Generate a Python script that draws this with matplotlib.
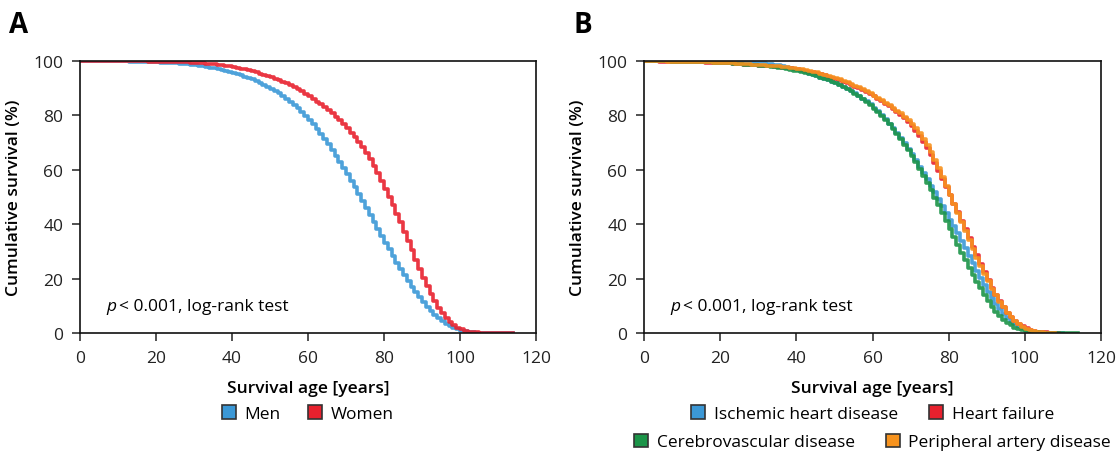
import numpy as np
import matplotlib.pyplot as plt
from matplotlib.patches import Patch

plt.rcParams['font.family'] = ['Open Sans', 'DejaVu Sans']

# Kaplan-Meier style survival (%) by age in years, one value per year from age 0
men = [
    100, 100, 100, 100, 100, 100, 100, 100, 99.9, 99.9,
    99.9, 99.9, 99.9, 99.8, 99.8, 99.8, 99.7, 99.7, 99.6, 99.6,
    99.5, 99.4, 99.4, 99.3, 99.2, 99.1, 99.0, 98.9, 98.8, 98.6,
    98.5, 98.3, 98.1, 97.9, 97.6, 97.4, 97.1, 96.8, 96.4, 96.1,
    95.7, 95.2, 94.8, 94.3, 93.8, 93.2, 92.6, 92.0, 91.3, 90.6,
    89.8, 89.0, 88.1, 87.1, 86.1, 85.0, 83.8, 82.6, 81.2, 79.8,
    78.3, 76.7, 75.0, 73.2, 71.4, 69.4, 67.4, 65.2, 63.0, 60.7,
    58.4, 56.0, 53.5, 51.0, 48.5, 46.0, 43.4, 40.8, 38.3, 35.7,
    33.2, 30.7, 28.3, 25.9, 23.6, 21.3, 19.1, 17.0, 15.0, 13.1,
    11.3, 9.6, 8.1, 6.7, 5.4, 4.3, 3.3, 2.5, 1.8, 1.3,
    0.9, 0.6, 0.4, 0.25, 0.15, 0.1, 0.06, 0.04, 0.02, 0.01,
    0.01, 0, 0, 0, 0,
]
women = [
    100, 100, 100, 100, 100, 100, 100, 100, 100, 100,
    100, 100, 100, 99.9, 99.9, 99.9, 99.9, 99.9, 99.8, 99.8,
    99.8, 99.8, 99.7, 99.7, 99.7, 99.6, 99.6, 99.5, 99.5, 99.4,
    99.3, 99.2, 99.1, 99.0, 98.9, 98.8, 98.6, 98.4, 98.2, 98.0,
    97.8, 97.5, 97.2, 96.9, 96.6, 96.2, 95.8, 95.4, 94.9, 94.4,
    94.0, 93.5, 93.0, 92.4, 91.8, 91.2, 90.5, 89.7, 88.9, 88.0,
    87.0, 86.1, 85.1, 84.1, 83.0, 81.9, 80.7, 79.5, 78.2, 76.8,
    75.3, 73.7, 72.0, 70.2, 68.2, 66.1, 63.8, 61.4, 58.8, 56.0,
    53.1, 50.1, 47.0, 43.9, 40.7, 37.2, 33.8, 30.4, 27.0, 23.6,
    20.4, 17.3, 14.4, 11.7, 9.3, 7.2, 5.4, 3.9, 2.8, 1.9,
    1.3, 0.8, 0.5, 0.3, 0.2, 0.1, 0.06, 0.04, 0.02, 0.01,
    0.01, 0.01, 0, 0, 0,
]

ihd = [
    100, 100, 100, 100, 100, 100, 100, 100, 100, 100,
    100, 100, 100, 100, 100, 99.9, 99.9, 99.9, 99.9, 99.9,
    99.9, 99.8, 99.8, 99.8, 99.7, 99.7, 99.6, 99.5, 99.5, 99.4,
    99.3, 99.1, 99.0, 98.8, 98.6, 98.4, 98.1, 97.8, 97.5, 97.1,
    96.6, 96.2, 95.8, 95.4, 94.9, 94.4, 93.9, 93.4, 92.9, 92.4,
    91.9, 91.3, 90.6, 89.8, 89.0, 88.1, 87.2, 86.2, 85.2, 84.1,
    82.8, 81.5, 80.1, 78.6, 77.0, 75.3, 73.6, 71.7, 69.8, 67.8,
    65.7, 63.5, 61.2, 58.9, 56.5, 54.1, 51.7, 49.2, 46.7, 44.2,
    41.7, 39.2, 36.6, 34.0, 31.2, 28.4, 25.6, 22.8, 20.1, 17.5,
    15.0, 12.7, 10.6, 8.7, 7.0, 5.5, 4.3, 3.3, 2.4, 1.7,
    1.2, 0.8, 0.55, 0.35, 0.2, 0.12, 0.08, 0.05, 0.03, 0.02,
    0.01,
]
heart_failure = [
    100, 99.9, 99.9, 99.9, 99.8, 99.8, 99.8, 99.8, 99.7, 99.7,
    99.7, 99.6, 99.6, 99.6, 99.5, 99.5, 99.4, 99.4, 99.3, 99.3,
    99.2, 99.1, 99.1, 99.0, 98.9, 98.8, 98.7, 98.6, 98.5, 98.4,
    98.3, 98.2, 98.1, 98.0, 97.9, 97.8, 97.6, 97.5, 97.3, 97.1,
    96.9, 96.7, 96.4, 96.1, 95.8, 95.5, 95.1, 94.7, 94.3, 93.9,
    93.4, 92.9, 92.4, 91.8, 91.2, 90.6, 90.0, 89.3, 88.6, 87.8,
    87.0, 86.1, 85.2, 84.2, 83.3, 82.3, 81.2, 80.1, 78.9, 77.6,
    76.0, 74.3, 72.4, 70.3, 67.9, 65.3, 62.5, 59.6, 56.6, 53.6,
    50.6, 47.5, 44.4, 41.3, 38.2, 35.0, 31.8, 28.6, 25.5, 22.4,
    19.4, 16.6, 14.0, 11.6, 9.4, 7.5, 5.8, 4.4, 3.3, 2.4,
    1.7, 1.1, 0.7, 0.45, 0.3, 0.2, 0.12, 0.08, 0.05, 0.03,
]
cvd = [
    100, 100, 99.9, 99.9, 99.9, 99.9, 99.9, 99.8, 99.8, 99.8,
    99.8, 99.7, 99.7, 99.7, 99.6, 99.6, 99.5, 99.5, 99.4, 99.3,
    99.3, 99.2, 99.1, 99.0, 98.9, 98.8, 98.7, 98.6, 98.5, 98.4,
    98.3, 98.2, 98.0, 97.9, 97.7, 97.5, 97.3, 97.1, 96.8, 96.5,
    96.2, 95.9, 95.6, 95.2, 94.8, 94.4, 93.9, 93.4, 92.9, 92.4,
    91.9, 91.2, 90.5, 89.7, 88.9, 88.0, 87.0, 86.0, 85.0, 83.9,
    82.5, 81.2, 79.8, 78.3, 76.7, 75.0, 73.2, 71.3, 69.3, 67.2,
    65.0, 62.7, 60.3, 57.8, 55.2, 52.5, 49.7, 46.9, 44.0, 41.1,
    38.2, 35.3, 32.4, 29.5, 26.7, 24.0, 21.4, 18.9, 16.4, 14.0,
    11.6, 9.5, 7.7, 6.1, 4.8, 3.7, 2.8, 2.0, 1.4, 1.0,
    0.7, 0.45, 0.3, 0.2, 0.12, 0.08, 0.05, 0.03, 0.02, 0.02,
    0.01, 0.01, 0.01, 0, 0,
]
pad = [
    100, 100, 99.9, 99.9, 99.9, 99.9, 99.8, 99.8, 99.8, 99.8,
    99.7, 99.7, 99.7, 99.6, 99.6, 99.6, 99.5, 99.5, 99.4, 99.4,
    99.3, 99.3, 99.2, 99.1, 99.0, 99.0, 98.9, 98.8, 98.7, 98.6,
    98.5, 98.4, 98.3, 98.2, 98.1, 98.0, 97.8, 97.7, 97.5, 97.3,
    97.1, 96.9, 96.7, 96.4, 96.1, 95.8, 95.4, 95.0, 94.6, 94.2,
    93.7, 93.2, 92.7, 92.1, 91.5, 90.9, 90.3, 89.6, 88.9, 88.1,
    87.3, 86.5, 85.6, 84.7, 83.8, 82.8, 81.8, 80.7, 79.5, 78.2,
    76.8, 75.2, 73.4, 71.4, 69.1, 66.5, 63.6, 60.5, 57.3, 54.0,
    50.7, 47.3, 44.0, 40.7, 37.4, 34.1, 30.9, 27.7, 24.7, 21.8,
    19.0, 16.3, 13.8, 11.5, 9.4, 7.5, 5.8, 4.4, 3.2, 2.3,
    1.6, 1.0, 0.6, 0.4, 0.25, 0.15, 0.1, 0.05, 0.02,
]

panel_a = [('Men', men, '#3b98d6'), ('Women', women, '#e8212e')]
panel_b = [
    ('Ischemic heart disease', ihd, '#3b98d6'),
    ('Heart failure', heart_failure, '#e8212e'),
    ('Cerebrovascular disease', cvd, '#1b9448'),
    ('Peripheral artery disease', pad, '#f7931e'),
]

W, H = 1119, 452
fig = plt.figure(figsize=(W / 100, H / 100), dpi=100)
ax_a = fig.add_axes([80 / W, 1 - 334 / H, 456 / W, 272 / H])
ax_b = fig.add_axes([644 / W, 1 - 334 / H, 457 / W, 272 / H])


def style_axis(ax, letter):
    ax.set_xlim(0, 120)
    ax.set_ylim(0, 100)
    ax.set_xticks(range(0, 121, 20))
    ax.set_yticks(range(0, 101, 20))
    ax.tick_params(direction='out', length=6, width=1.1, labelsize=12.5,
                   colors='#222222', pad=6)
    for sp in ax.spines.values():
        sp.set_linewidth(1.2)
        sp.set_color('#111111')
    ax.set_xlabel('Survival age [years]', fontsize=12.5, fontweight='semibold',
                  labelpad=10)
    ax.set_ylabel('Cumulative survival (%)', fontsize=12.5, fontweight='semibold',
                  labelpad=8)
    ax.text(7, 10, 'p', style='italic', fontsize=12.5, va='center')
    ax.text(10.2, 10, '< 0.001, log-rank test', fontsize=12.5, va='center')
    ax.text(-0.155, 1.135, letter, transform=ax.transAxes, fontsize=20,
            fontweight='bold', va='center', ha='left')


def square(color):
    return Patch(facecolor=color, edgecolor='#333333', linewidth=1.2)


for name, vals, color in panel_a:
    ax_a.step(np.arange(len(vals)), vals, where='post', color=color,
              lw=2.6, alpha=0.9)
style_axis(ax_a, 'A')
ax_a.legend([square(c) for _, _, c in panel_a], [n for n, _, _ in panel_a],
            loc='upper center', bbox_to_anchor=(0.5, -0.24), ncol=2,
            frameon=False, fontsize=12.5, handlelength=0.8, handleheight=0.8,
            handletextpad=0.5, columnspacing=1.6, borderaxespad=0)

for name, vals, color in panel_b:
    ax_b.step(np.arange(len(vals)), vals, where='post', color=color,
              lw=2.6, alpha=0.9)
style_axis(ax_b, 'B')
rows = [panel_b[:2], panel_b[2:]]
for i, row in enumerate(rows):
    leg = ax_b.legend([square(c) for _, _, c in row], [n for n, _, _ in row],
                      loc='upper center', bbox_to_anchor=(0.5, -0.24 - i * 0.105),
                      ncol=2, frameon=False, fontsize=12.5, handlelength=0.8,
                      handleheight=0.8, handletextpad=0.5, columnspacing=1.8,
                      borderaxespad=0)
    if i == 0:
        ax_b.add_artist(leg)

fig.savefig('out.png', dpi=100, facecolor='white')
